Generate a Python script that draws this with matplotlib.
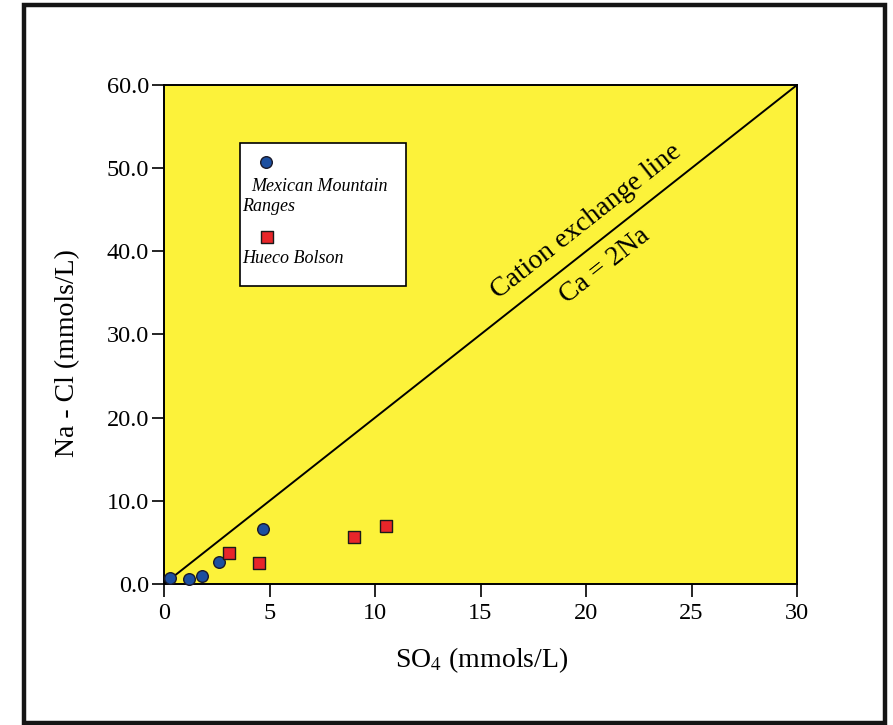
import matplotlib
matplotlib.use('Agg')
import numpy as np
import matplotlib.pyplot as plt
from matplotlib.patches import Rectangle

# data
mex_x = [0.3, 1.2, 1.8, 2.6, 4.7]
mex_y = [0.7, 0.6, 1.0, 2.6, 6.6]
hueco_x = [3.1, 4.5, 9.0, 10.5]
hueco_y = [3.7, 2.5, 5.7, 7.0]
line_x = [0, 30]
line_y = [0, 60]
x_ticks = [0, 5, 10, 15, 20, 25, 30]
y_ticks = [0, 10, 20, 30, 40, 50, 60]

plt.rcParams['font.family'] = ['Liberation Serif', 'DejaVu Serif']
plt.rcParams['mathtext.fontset'] = 'stix'

fig = plt.figure(figsize=(8.93, 7.25), dpi=100)
ax = fig.add_axes([0.1837, 0.1945, 0.7088, 0.6883])
ax.set_facecolor('#fcf23a')

# cation exchange line
ax.plot(line_x, line_y, color='black', lw=1.4, zorder=2)

ax.scatter(mex_x, mex_y, s=70, marker='o', facecolor='#1c4fa0', edgecolor='#1a1a2a',
           linewidth=1.0, zorder=3, clip_on=False)
ax.scatter(hueco_x, hueco_y, s=70, marker='s', facecolor='#e8262a', edgecolor='#1a1a1a',
           linewidth=1.0, zorder=3)

ax.set_xlim(0, 30)
ax.set_ylim(0, 60)
ax.set_xticks(x_ticks)
ax.set_yticks(y_ticks)
ax.set_yticklabels([f'{v:.1f}' for v in y_ticks])
ax.tick_params(direction='out', length=9, width=1.2, labelsize=17.5, pad=2)
ax.tick_params(axis='x', pad=5)
for s in ax.spines.values():
    s.set_linewidth(1.4)

# labels along the line
slope_deg = np.degrees(np.arctan2(60, 30))
ax.text(20.0, 43.6, 'Cation exchange line', rotation=slope_deg, rotation_mode='anchor',
        transform_rotates_text=True, ha='center', va='center', fontsize=20)
ax.text(20.9, 38.3, 'Ca = 2Na', rotation=slope_deg, rotation_mode='anchor',
        transform_rotates_text=True, ha='center', va='center', fontsize=20)

# legend box drawn by hand (marker above its label)
ax.add_patch(Rectangle((0.120, 0.597), 0.262, 0.287, transform=ax.transAxes,
                       facecolor='white', edgecolor='black', lw=1.2, zorder=4))
ax.scatter([0.161], [0.846], s=70, marker='o', facecolor='#1c4fa0', edgecolor='#1a1a2a',
           linewidth=1.0, transform=ax.transAxes, zorder=5)
ax.text(0.137, 0.797, 'Mexican Mountain', transform=ax.transAxes, fontsize=13,
        style='italic', va='center', ha='left', zorder=5)
ax.text(0.123, 0.756, 'Ranges', transform=ax.transAxes, fontsize=13,
        style='italic', va='center', ha='left', zorder=5)
ax.scatter([0.163], [0.695], s=70, marker='s', facecolor='#e8262a', edgecolor='#1a1a1a',
           linewidth=1.0, transform=ax.transAxes, zorder=5)
ax.text(0.123, 0.653, 'Hueco Bolson', transform=ax.transAxes, fontsize=13,
        style='italic', va='center', ha='left', zorder=5)

# axis titles
fig.text(0.539, 0.090, 'SO$_4$ (mmols/L)', ha='center', va='center', fontsize=20)
fig.text(0.076, 0.513, 'Na - Cl (mmols/L)', ha='center', va='center', fontsize=20,
         rotation=90)

# outer frame
fig.patches.append(Rectangle((0.027, 0.003), 0.964, 0.990, transform=fig.transFigure,
                             fill=False, edgecolor='#151515', lw=3.2))

fig.savefig('out.png', dpi=100)
